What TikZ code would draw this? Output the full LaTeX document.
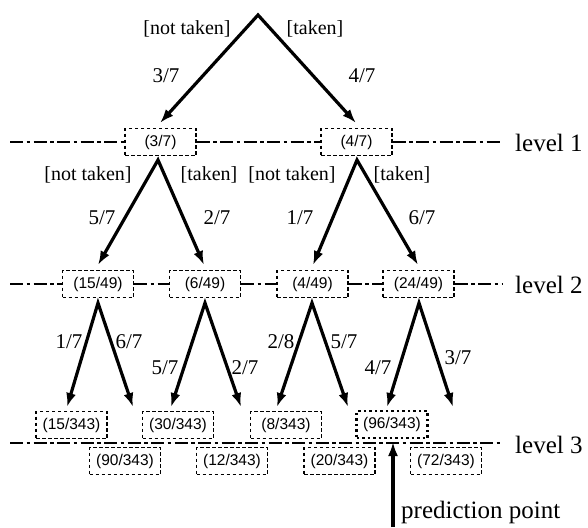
\documentclass[tikz,border=0pt]{standalone}
\usepackage{fontspec}
\setmainfont{Liberation Serif}
\newfontfamily\boxfont{Liberation Sans}
\usetikzlibrary{arrows.meta}
\begin{document}
\begin{tikzpicture}[x=1pt,y=-1pt,
  prob/.style={draw,dash pattern=on 3.5pt off 2.5pt,line width=1.1pt,minimum width=71pt,minimum height=27pt,inner sep=0pt,font=\boxfont\fontsize{15.5}{15.5}\selectfont},
  pred/.style={prob,line width=2.8pt,dash pattern=on 2.5pt off 3pt},
  lbl/.style={font=\fontsize{20}{20}\selectfont,inner sep=0pt},
  frac/.style={font=\fontsize{21}{21}\selectfont,inner sep=0pt},
  lvl/.style={font=\fontsize{25}{25}\selectfont,inner sep=0pt,anchor=west},
  levelline/.style={line width=1.2pt,dash pattern=on 13pt off 3.5pt on 3.5pt off 3.5pt},
  branch/.style={line width=3.2pt,{Latex[length=14pt,width=10pt]}-{Latex[length=14pt,width=10pt]},line join=miter},
  single/.style={line width=3.4pt,-{Latex[length=14pt,width=10pt]}},
]
\useasboundingbox (0,0) rectangle (588,527);

% level 1 boxes
\node[prob] (b1a) at (160.5,142) {(3/7)};
\node[prob] (b1b) at (356.5,142) {(4/7)};
% level 2 boxes
\node[prob] (b2a) at (98,284) {(15/49)};
\node[prob] (b2b) at (205,284) {(6/49)};
\node[prob] (b2c) at (312.5,284) {(4/49)};
\node[prob] (b2d) at (418.5,284) {(24/49)};
% level 3 boxes
\node[prob] (b3a) at (71.5,425) {(15/343)};
\node[prob] (b3b) at (178,425) {(30/343)};
\node[prob] (b3c) at (286,425) {(8/343)};
\node[pred] (b3d) at (392,424.5) {(96/343)};
\node[prob] (b3e) at (125,461) {(90/343)};
\node[prob] (b3f) at (232,461) {(12/343)};
\node[prob] (b3g) at (339.5,461) {(20/343)};
\node[prob] (b3h) at (446,461) {(72/343)};

% level lines
\coordinate (l1s) at (10,142); \coordinate (l1e) at (502,142);
\coordinate (l2s) at (10,284); \coordinate (l2e) at (502,284);
\coordinate (l3s) at (10,443); \coordinate (l3e) at (502,443);
\draw[levelline] (l1s) -- (b1a.west);
\draw[levelline] (b1a.east) -- (b1b.west);
\draw[levelline] (b1b.east) -- (l1e);
\draw[levelline] (l2s) -- (b2a.west);
\draw[levelline] (b2a.east) -- (b2b.west);
\draw[levelline] (b2b.east) -- (b2c.west);
\draw[levelline] (b2c.east) -- (b2d.west);
\draw[levelline] (b2d.east) -- (l2e);
\draw[levelline] (l3s) -- (l3e);

\node[lvl] (lv1) at (515,143) {level 1};
\node[lvl] (lv2) at (515,285) {level 2};
\node[lvl] (lv3) at (515,445) {level 3};

% branches
\coordinate (a0) at (258,15);
\coordinate (t0l) at (160,123); \coordinate (t0r) at (356,123);
\draw[branch] (t0l) -- (a0) -- (t0r);

\coordinate (a1l) at (158,160);
\coordinate (t1a) at (98,265); \coordinate (t1b) at (204,265);
\draw[branch] (t1a) -- (a1l) -- (t1b);
\coordinate (a1r) at (357,160);
\coordinate (t1c) at (313,265); \coordinate (t1d) at (418,265);
\draw[branch] (t1c) -- (a1r) -- (t1d);

\coordinate (a2a) at (98,303);
\coordinate (t2a) at (67,407); \coordinate (t2b) at (133,407);
\draw[branch] (t2a) -- (a2a) -- (t2b);
\coordinate (a2b) at (205,303);
\coordinate (t2c) at (171,407); \coordinate (t2d) at (241,407);
\draw[branch] (t2c) -- (a2b) -- (t2d);
\coordinate (a2c) at (312,303);
\coordinate (t2e) at (277,407); \coordinate (t2f) at (348,407);
\draw[branch] (t2e) -- (a2c) -- (t2f);
\coordinate (a2d) at (419,303);
\coordinate (t2g) at (387,407); \coordinate (t2h) at (453,407);
\draw[branch] (t2g) -- (a2d) -- (t2h);

% labels
\node[lbl] (n0) at (187,29) {[not taken]};
\node[lbl] (k0) at (315,29) {[taken]};
\node[frac] (f0l) at (166,76) {3/7};
\node[frac] (f0r) at (362,76) {4/7};
\node[lbl] (n1a) at (88,175) {[not taken]};
\node[lbl] (k1a) at (209,175) {[taken]};
\node[lbl] (n1b) at (292,175) {[not taken]};
\node[lbl] (k1b) at (402,175) {[taken]};
\node[frac] (f1a) at (102,218) {5/7};
\node[frac] (f1b) at (217,218) {2/7};
\node[frac] (f1c) at (300,218) {1/7};
\node[frac] (f1d) at (422,218) {6/7};
\node[frac] (f2a) at (69,342) {1/7};
\node[frac] (f2b) at (129,342) {6/7};
\node[frac] (f2c) at (165,368) {5/7};
\node[frac] (f2d) at (245,368) {2/7};
\node[frac] (f2e) at (281,342) {2/8};
\node[frac] (f2f) at (344,342) {5/7};
\node[frac] (f2g) at (378,368) {4/7};
\node[frac] (f2h) at (458,358) {3/7};

% prediction point
\coordinate (pp) at (393,527);
\coordinate (ppt) at (393,442);
\draw[single] (pp) -- (ppt);
\node[lvl] (ptxt) at (401,512) {prediction point};
\end{tikzpicture}
\end{document}
